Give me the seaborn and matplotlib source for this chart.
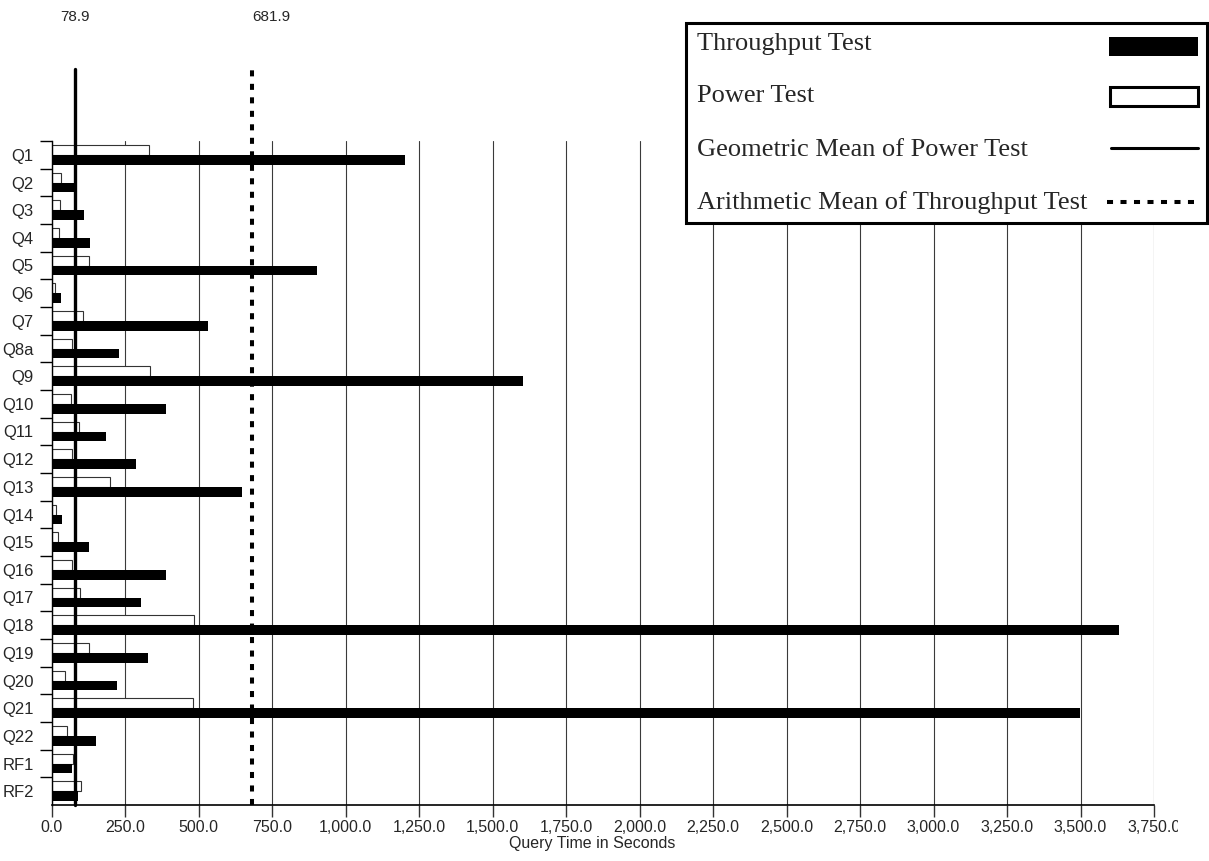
import matplotlib
matplotlib.use('Agg')
import matplotlib.pyplot as plt
import matplotlib.ticker as mticker
from matplotlib.patches import Rectangle
from matplotlib.lines import Line2D
from matplotlib.transforms import Bbox, TransformedBbox
import seaborn as sns
import pandas as pd
import numpy as np

# Query times (seconds)
queries = ['Q1', 'Q2', 'Q3', 'Q4', 'Q5', 'Q6', 'Q7', 'Q8a', 'Q9', 'Q10', 'Q11', 'Q12',
           'Q13', 'Q14', 'Q15', 'Q16', 'Q17', 'Q18', 'Q19', 'Q20', 'Q21', 'Q22', 'RF1', 'RF2']
power = [331, 31, 28, 23, 128, 12, 107, 69, 333, 65, 94, 69,
         197, 14, 22, 70, 96, 485, 128, 46, 481, 53, 73, 100]
throughput = [1200, 85, 108, 131, 901, 32, 531, 230, 1603, 390, 183, 286,
              647, 34, 128, 390, 302, 3632, 327, 222, 3498, 149, 68, 88]
geo_mean = 78.9
arith_mean = 681.9
x_ticks = [0, 250, 500, 750, 1000, 1250, 1500, 1750, 2000, 2250, 2500, 2750, 3000, 3250, 3500, 3750]
legend_labels = ['Throughput Test', 'Power Test', 'Geometric Mean of Power Test',
                 'Arithmetic Mean of Throughput Test']

df = pd.DataFrame({
    'Query': queries * 2,
    'Seconds': power + throughput,
    'Test': ['Power Test'] * len(queries) + ['Throughput Test'] * len(queries),
})

sns.set_style('white')
plt.rcParams['font.family'] = ['Liberation Sans', 'DejaVu Sans']

W, H = 1209, 861
fig = plt.figure(figsize=(W / 100, H / 100), dpi=100)
ax = fig.add_axes([51.8 / W, 56 / H, (1154 - 51.8) / W, 664 / H])

sns.barplot(data=df, x='Seconds', y='Query', hue='Test',
            hue_order=['Power Test', 'Throughput Test'],
            palette={'Power Test': 'white', 'Throughput Test': 'black'},
            orient='h', width=0.7, saturation=1, legend=False, ax=ax,
            edgecolor='none', linewidth=0)

for p in ax.containers[0]:
    p.set_edgecolor('#333333')
    p.set_linewidth(0.8)

ax.set_xlim(0, 3750)
ax.set_ylim(len(queries) - 0.5, -0.5)
ax.set_xticks(x_ticks)
ax.xaxis.set_major_formatter(mticker.FuncFormatter(lambda v, p: f'{v:,.1f}'))
ax.xaxis.grid(True, color='#3a3a3a', lw=0.8)
ax.yaxis.grid(False)
ax.set_axisbelow(True)

ax.set_yticks(range(len(queries)))
ax.set_yticklabels(queries)
ax.set_yticks(np.arange(-0.5, len(queries) - 1), minor=True)
ax.tick_params(axis='y', which='major', length=0, pad=13, labelsize=12)
ax.tick_params(axis='y', which='minor', length=8.6, width=1, color='black', left=True)
ax.tick_params(axis='x', which='major', length=8.6, width=1, color='#333333',
               pad=2, labelsize=11.5, bottom=True)

for s in ['top', 'right']:
    ax.spines[s].set_visible(False)
ax.spines['left'].set_linewidth(1.0)
ax.spines['left'].set_color('black')
ax.spines['bottom'].set_linewidth(1.2)
ax.spines['bottom'].set_color('black')

ax.set_ylabel('')
ax.set_xlabel('Query Time in Seconds', fontsize=11.5, va='top')
ax.xaxis.set_label_coords(0.49, -0.047)

# the last tick label is cut off in the original
clip = TransformedBbox(Bbox.from_extents(0, 0, 1178 / W, 1), fig.transFigure)
last = ax.get_xticklabels()[-1]
last.set_clip_box(clip)
last.set_clip_on(True)

# mean lines, running above the plot area
ax.axvline(geo_mean, ymin=0, ymax=1.108, color='black', lw=2.4, clip_on=False, zorder=4)
ax.axvline(arith_mean, ymin=0, ymax=1.108, color='black', lw=2.9,
           linestyle=(0, (1.5, 1.85)), clip_on=False, zorder=4)
ax.text(geo_mean, 1.1807, f'{geo_mean}', transform=ax.get_xaxis_transform(),
        ha='center', va='baseline', fontsize=11)
ax.text(arith_mean, 1.1807, f'{arith_mean}', transform=ax.get_xaxis_transform(),
        ha='left', va='baseline', fontsize=11)


# legend box drawn by hand: text left, keys right
def fx(px):
    return px / W


def fy(py):
    return 1 - py / H


fig.add_artist(Rectangle((fx(686), fy(223)), fx(1207) - fx(686), fy(23) - fy(223),
                         transform=fig.transFigure, facecolor='white', edgecolor='black',
                         lw=2.2, zorder=10))
for lab, base in zip(legend_labels, [50, 102, 156, 209]):
    fig.text(fx(697), fy(base), lab, fontsize=19, family='Liberation Serif',
             va='baseline', ha='left', zorder=11)
fig.add_artist(Rectangle((fx(1109), fy(56)), fx(1198) - fx(1109), fy(37) - fy(56),
                         transform=fig.transFigure, facecolor='black', edgecolor='none',
                         zorder=11))
fig.add_artist(Rectangle((fx(1110), fy(106)), fx(1198) - fx(1110), fy(87) - fy(106),
                         transform=fig.transFigure, facecolor='white', edgecolor='black',
                         lw=2.2, zorder=11))
fig.add_artist(Line2D([fx(1111), fx(1198)], [fy(147.5), fy(147.5)], color='black', lw=2.2,
                      transform=fig.transFigure, zorder=11))
fig.add_artist(Line2D([fx(1107), fx(1198)], [fy(202), fy(202)], color='black', lw=2.9,
                      linestyle=(0, (1.5, 1.85)), transform=fig.transFigure, zorder=11))

fig.savefig('out.png', dpi=100)
